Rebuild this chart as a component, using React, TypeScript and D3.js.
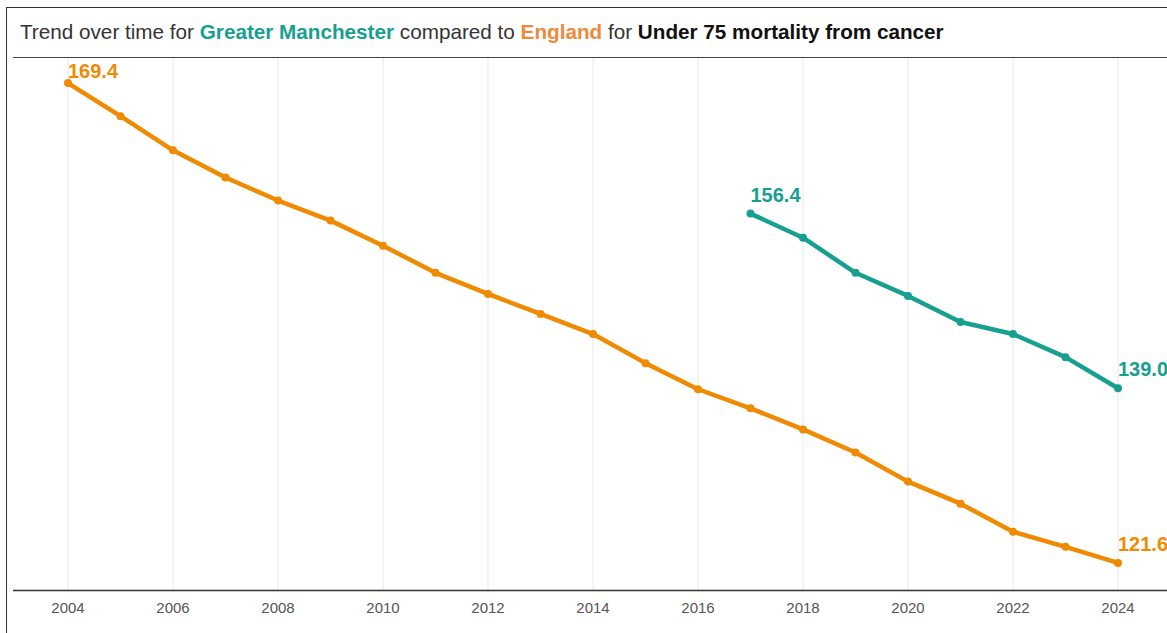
import * as d3 from 'd3';
import React from 'react';

// values
const years = d3.range(2004, 2025);
const englandValues = [
  169.4, 166.1, 162.7, 160.0, 157.7, 155.7, 153.2, 150.5, 148.4, 146.4, 144.4,
  141.5, 138.9, 137.0, 134.9, 132.6, 129.7, 127.5, 124.7, 123.2, 121.6,
];
const gmYears = d3.range(2017, 2025);
const gmValues = [156.4, 154.0, 150.5, 148.2, 145.6, 144.4, 142.1, 139.0];
const tickYears = d3.range(2004, 2025, 2);

const ENGLAND = '#f08a00';
const GM = '#17a090';

const width = 1167;
const height = 633;

const xScale = d3.scaleLinear().domain([2004, 2024]).range([68, 1118]);
const yScale = d3.scaleLinear().domain([118.9, 172]).range([590, 57]);

const line = d3
  .line<[number, number]>()
  .x((d) => xScale(d[0]))
  .y((d) => yScale(d[1]));

const englandPts: [number, number][] = years.map((y, i) => [y, englandValues[i]]);
const gmPts: [number, number][] = gmYears.map((y, i) => [y, gmValues[i]]);

// label sits above the point, kept inside the plot
const labelY = (v: number) => Math.max(yScale(v) - 12, 78);

const Series = ({ pts, color }: { pts: [number, number][]; color: string }) => {
  const first = pts[0];
  const last = pts[pts.length - 1];
  return (
    <g>
      <path d={line(pts) || ''} fill="none" stroke={color} strokeWidth={4.5} strokeLinejoin="round" />
      {pts.map((p) => (
        <circle key={p[0]} cx={xScale(p[0])} cy={yScale(p[1])} r={4} fill={color} />
      ))}
      {[first, last].map((p) => (
        <text
          key={'l' + p[0]}
          x={xScale(p[0])}
          y={labelY(p[1])}
          fill={color}
          fontSize={20}
          fontWeight="bold"
        >
          {p[1].toFixed(1)}
        </text>
      ))}
    </g>
  );
};

export default function App() {
  return (
    <svg
      width={width}
      height={height}
      style={{ position: 'absolute', left: 0, top: 0, background: 'white' }}
      fontFamily="'Liberation Sans', Arial, sans-serif"
    >
      <rect x={6.5} y={7.5} width={1200} height={660} fill="white" stroke="#333" strokeWidth={1} />
      <text x={20} y={39} fontSize={20.7} fill="#333">
        Trend over time for{' '}
        <tspan fill={GM} fontWeight="bold">Greater Manchester</tspan> compared to{' '}
        <tspan fill="#ee8a3a" fontWeight="bold">England</tspan> for{' '}
        <tspan fill="#111" fontWeight="bold">Under 75 mortality from cancer</tspan>
      </text>
      <line x1={13} x2={width} y1={57.5} y2={57.5} stroke="#444" strokeWidth={1.2} />

      {tickYears.map((t) => (
        <line key={t} x1={xScale(t)} x2={xScale(t)} y1={58} y2={590} stroke="#e8e8ec" strokeWidth={1} />
      ))}

      <line x1={13} x2={width} y1={590.5} y2={590.5} stroke="#333" strokeWidth={1.3} />
      {tickYears.map((t) => (
        <text key={'t' + t} x={xScale(t)} y={613} textAnchor="middle" fontSize={15} fill="#555">
          {t}
        </text>
      ))}

      <Series pts={englandPts} color={ENGLAND} />
      <Series pts={gmPts} color={GM} />
    </svg>
  );
}
